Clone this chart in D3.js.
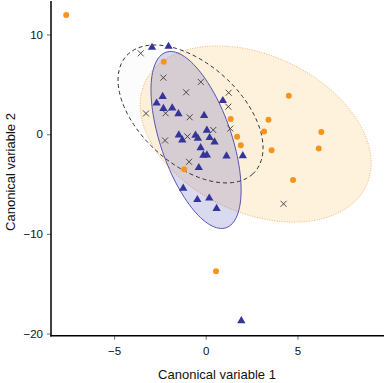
<!doctype html>
<html>
  <head>
    <meta charset="utf-8">
    <script src="https://cdnjs.cloudflare.com/ajax/libs/d3/7.8.5/d3.min.js"></script>
    <style>
      body { margin: 0; background: #fff; }
      svg { font-family: "Liberation Sans", Arial, sans-serif; }
    </style>
  </head>
  <body>
    <svg id="chart" width="386" height="383"></svg>
    <script>
        // group "x" (crosses)
        var crossX = [-3.55, -2.31, -0.27, -1.07, 1.25, 1.23, -3.26, -2.19, -0.88, 0.41, 1.34, -1.00, -2.22, -0.91, 4.24];
        var crossY = [8.11, 5.67, 5.24, 4.20, 4.16, 2.76, 2.08, 2.10, 1.70, 0.42, 0.57, -0.23, -0.63, -2.77, -6.98];

        // group triangles
        var triX = [-2.93, -2.03, 0.93, -2.35, -2.68, -2.31, -1.83, -1.49, -0.09, -1.47, -1.28, -0.56, -0.43, 0.06,
                    0.21, 0.48, -0.28, -0.13, 0.06, 1.13, 2.02, -0.38, -1.23, -0.46, 0.19, 0.59, 1.94];
        var triY = [8.70, 8.80, 3.36, 3.78, 3.11, 2.58, 2.63, 2.05, 1.86, -0.08, -0.58, -0.11, -0.41, 0.39,
                    -0.35, -0.78, -1.36, -2.11, -2.09, -2.19, -2.16, -3.36, -5.43, -6.57, -6.42, -7.47, -18.71];

        // group circles
        var dotX = [-7.61, -2.29, 4.53, 1.36, 3.42, 3.18, 1.71, 1.91, 6.30, 6.16, 3.59, 4.76, -1.18, 0.56];
        var dotY = [11.96, 7.26, 3.86, 1.52, 1.44, 0.27, -0.26, -1.10, 0.22, -1.43, -1.61, -4.59, -3.52, -13.75];

        // ellipses: centre, then two conjugate semi-axes (data units)
        var ellOrange = [2.72, 0.02, 6.03, -5.20, -1.82, -7.14];
        var ellCross  = [-0.83, 2.03, 3.50, -5.82, -1.84, -3.74];
        var ellTri    = [-0.53, -0.58, 1.64, -8.80, -1.83, -1.15];

        var xTicks = [-5, 0, 5];
        var yTicks = [-20, -10, 0, 10];

        var svg = d3.select("#chart");
        var xScale = d3.scaleLinear().domain([-8.44, 9.72]).range([51, 384]);
        var yScale = d3.scaleLinear().domain([-20.21, 13.46]).range([335.7, 0]);

        function ellPath(e) {
            var pts = d3.range(0, 360, 3).map(function (deg) {
                var t = deg * Math.PI / 180;
                return [xScale(e[0] + e[2] * Math.cos(t) + e[4] * Math.sin(t)),
                        yScale(e[1] + e[3] * Math.cos(t) + e[5] * Math.sin(t))];
            });
            return d3.line().curve(d3.curveCardinalClosed)(pts);
        }

        svg.append("path").attr("d", ellPath(ellCross))
            .style("fill", "rgba(110,90,80,0.02)").style("stroke", "none");
        svg.append("path").attr("d", ellPath(ellOrange))
            .style("fill", "rgba(252,226,180,0.45)")
            .style("stroke", "#f4b56e").style("stroke-width", 1).style("stroke-dasharray", "1,1.5");
        svg.append("path").attr("d", ellPath(ellTri))
            .style("fill", "rgba(64,66,176,0.2)")
            .style("stroke", "#5753b0").style("stroke-width", 1);
        svg.append("path").attr("d", ellPath(ellCross))
            .style("fill", "none")
            .style("stroke", "#333").style("stroke-width", 1).style("stroke-dasharray", "4,3");

        // axes
        var xAxis = d3.axisBottom(xScale).tickValues(xTicks).tickSize(4).tickPadding(7);
        var yAxis = d3.axisLeft(yScale).tickValues(yTicks).tickSize(4).tickPadding(4);

        var gx = svg.append("g").attr("transform", "translate(0,335.7)").call(xAxis);
        var gy = svg.append("g").attr("transform", "translate(51,0)").call(yAxis);
        [gx, gy].forEach(function (g) {
            g.select(".domain").remove();
            g.selectAll(".tick line").style("stroke", "#888").style("stroke-width", 1.2);
            g.selectAll(".tick text").style("font-size", "11.5px").style("fill", "#111")
                .style("font-family", "Liberation Sans, Arial, sans-serif");
        });
        svg.append("line").attr("x1", 51).attr("x2", 51).attr("y1", 1).attr("y2", 336.5)
            .style("stroke", "#000").style("stroke-width", 1.5);
        svg.append("line").attr("x1", 50.3).attr("x2", 384).attr("y1", 335.7).attr("y2", 335.7)
            .style("stroke", "#000").style("stroke-width", 1.5);

        // points
        svg.selectAll(".dot").data(dotX).enter().append("circle")
            .attr("cx", function (d) { return xScale(d); })
            .attr("cy", function (d, i) { return yScale(dotY[i]); })
            .attr("r", 3)
            .style("fill", "#f7941d");

        var tri = d3.symbol().type(d3.symbolTriangle).size(30);
        svg.selectAll(".tri").data(triX).enter().append("path")
            .attr("d", tri)
            .attr("transform", function (d, i) { return "translate(" + xScale(d) + "," + yScale(triY[i]) + ")"; })
            .style("fill", "#35349a");

        svg.selectAll(".cross").data(crossX).enter().append("path")
            .attr("d", "M-3,-3L3,3M-3,3L3,-3")
            .attr("transform", function (d, i) { return "translate(" + xScale(d) + "," + yScale(crossY[i]) + ")"; })
            .style("stroke", "#3a3a3a").style("stroke-width", 0.9).style("fill", "none");

        // titles
        svg.append("text").attr("x", 217).attr("y", 379).attr("text-anchor", "middle")
            .style("font-size", "13px").style("fill", "#111").text("Canonical variable 1");
        svg.append("text").attr("transform", "translate(15,172) rotate(-90)").attr("text-anchor", "middle")
            .style("font-size", "13px").style("fill", "#111").text("Canonical variable 2");
    </script>
  </body>
</html>
